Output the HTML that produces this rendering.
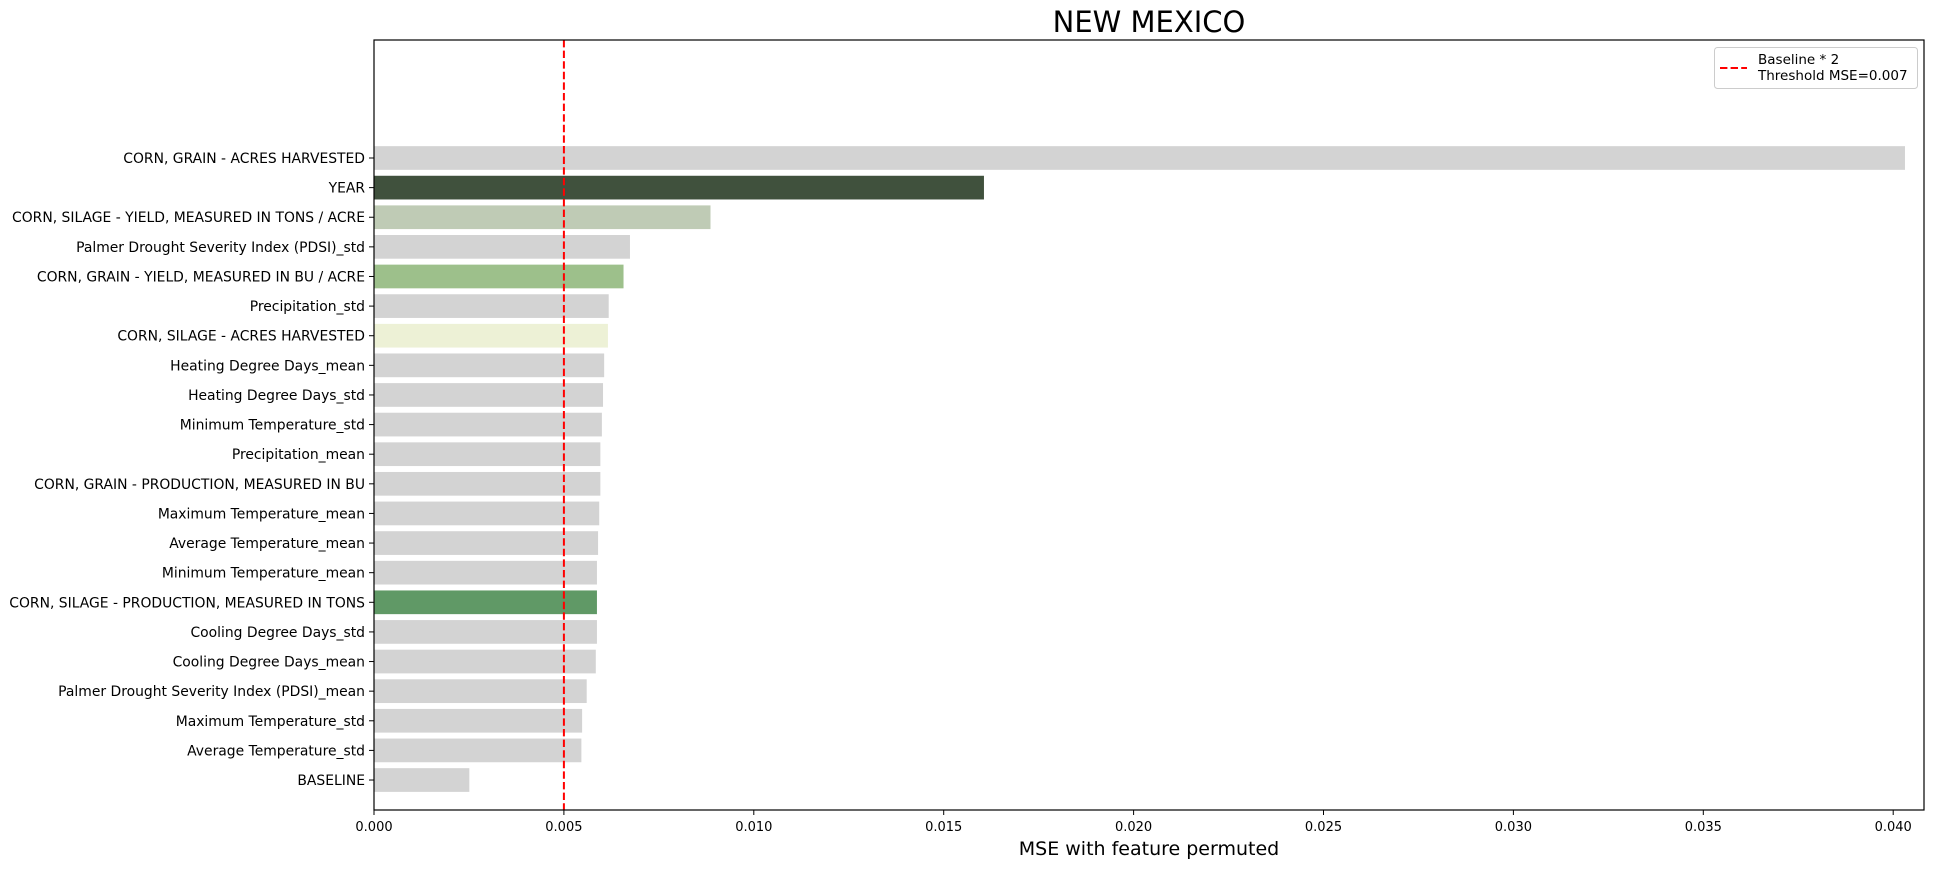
<!DOCTYPE html>
<html><head><meta charset="utf-8"><style>
body{margin:0;background:#fff;}
svg text{font-family:"DejaVu Sans","Liberation Sans",sans-serif;fill:#000;}
</style></head><body>
<svg id="chart" width="1934" height="868" xmlns="http://www.w3.org/2000/svg">
<text x="1149" y="32" font-size="29" text-anchor="middle">NEW MEXICO</text>
<g id="bars"></g>
<g id="yticks"></g>
<g id="xticks"></g>
<line id="thresh" y1="40" y2="810" stroke="#ff0000" stroke-width="2" stroke-dasharray="7.4,3.2"/>
<rect x="374" y="40" width="1550" height="770" fill="none" stroke="#000" stroke-width="1.2"/>
<text x="1149" y="855" font-size="19" text-anchor="middle">MSE with feature permuted</text>
<g>
<rect x="1714.5" y="47.5" width="203" height="41" rx="3" fill="#fff" stroke="#ccc"/>
<line x1="1720" y1="68" x2="1747" y2="68" stroke="#ff0000" stroke-width="2" stroke-dasharray="7.4,3.2"/>
<text x="1758" y="64" font-size="13.5">Baseline * 2</text>
<text x="1758" y="80" font-size="13.5">Threshold MSE=0.007</text>
</g>
</svg>
<script>
const categories=["CORN, GRAIN - ACRES HARVESTED","YEAR","CORN, SILAGE - YIELD, MEASURED IN TONS / ACRE","Palmer Drought Severity Index (PDSI)_std","CORN, GRAIN - YIELD, MEASURED IN BU / ACRE","Precipitation_std","CORN, SILAGE - ACRES HARVESTED","Heating Degree Days_mean","Heating Degree Days_std","Minimum Temperature_std","Precipitation_mean","CORN, GRAIN - PRODUCTION, MEASURED IN BU","Maximum Temperature_mean","Average Temperature_mean","Minimum Temperature_mean","CORN, SILAGE - PRODUCTION, MEASURED IN TONS","Cooling Degree Days_std","Cooling Degree Days_mean","Palmer Drought Severity Index (PDSI)_mean","Maximum Temperature_std","Average Temperature_std","BASELINE"];
const values=[0.04031,0.01606,0.00886,0.00674,0.00657,0.00618,0.00616,0.00606,0.00603,0.006,0.00596,0.00596,0.00593,0.0059,0.00587,0.00587,0.00587,0.00584,0.0056,0.00548,0.00546,0.00251];
const colors=["#d3d3d3","#40513d","#bfcbb5","#d3d3d3","#9dc08b","#d3d3d3","#edf1d6","#d3d3d3","#d3d3d3","#d3d3d3","#d3d3d3","#d3d3d3","#d3d3d3","#d3d3d3","#d3d3d3","#609966","#d3d3d3","#d3d3d3","#d3d3d3","#d3d3d3","#d3d3d3","#d3d3d3"];
const xTicks=[0,0.005,0.01,0.015,0.02,0.025,0.03,0.035,0.04];
const xTickLabels=["0.000","0.005","0.010","0.015","0.020","0.025","0.030","0.035","0.040"];
const threshold=0.005;
const NS="http://www.w3.org/2000/svg";
const X0=374,PX=37.98/0.001;
function xs(v){return X0+v*PX;}
function ys(i){return 158+i*29.62;}
const gb=document.getElementById('bars'),gy=document.getElementById('yticks'),gx=document.getElementById('xticks');
categories.forEach((c,i)=>{
 const r=document.createElementNS(NS,'rect');
 
 
 r.setAttribute('x',xs(0));r.setAttribute('y',ys(i)-11.85);
 r.setAttribute('width',xs(values[i])-xs(0));r.setAttribute('height',23.7);
 r.setAttribute('fill',colors[i]);gb.appendChild(r);
 const l=document.createElementNS(NS,'line');
 
 
 l.setAttribute('x1',X0-5);l.setAttribute('x2',X0);l.setAttribute('y1',ys(i));l.setAttribute('y2',ys(i));l.setAttribute('stroke','#000');gy.appendChild(l);
 const t=document.createElementNS(NS,'text');
 
 
 t.setAttribute('x',X0-9);t.setAttribute('y',ys(i)+5);t.setAttribute('font-size','13.9');t.setAttribute('text-anchor','end');t.textContent=c;gy.appendChild(t);
});
xTicks.forEach((v,i)=>{
 const l=document.createElementNS(NS,'line');
 
 
 l.setAttribute('x1',xs(v));l.setAttribute('x2',xs(v));l.setAttribute('y1',810);l.setAttribute('y2',815);l.setAttribute('stroke','#000');gx.appendChild(l);
 const t=document.createElementNS(NS,'text');
 
 
 t.setAttribute('x',xs(v));t.setAttribute('y',831);t.setAttribute('font-size','13');t.setAttribute('text-anchor','middle');t.textContent=xTickLabels[i];gx.appendChild(t);
});
const th=document.getElementById('thresh');th.setAttribute('x1',xs(threshold));th.setAttribute('x2',xs(threshold));
</script>
</body></html>
